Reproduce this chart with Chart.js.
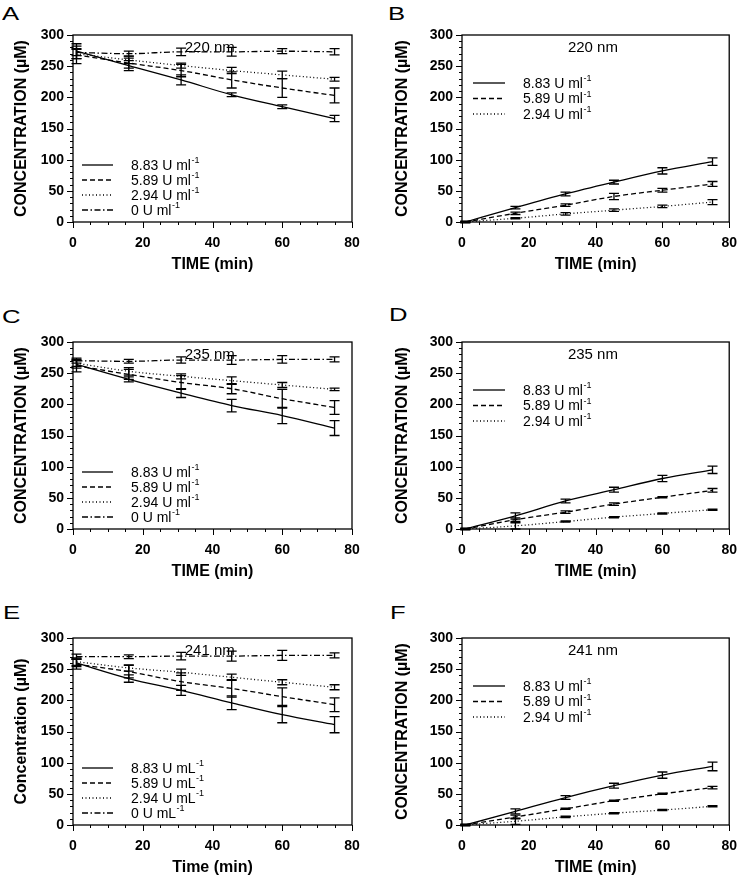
<!DOCTYPE html>
<html lang="en">
<head>
<meta charset="UTF-8">
<title>Concentration vs time, 220 / 235 / 241 nm</title>
<script src="https://cdn.jsdelivr.net/npm/chart.js"></script>
<style>
  body {
    margin: 0;
    width: 750px;
    height: 876px;
    overflow: hidden;
    background: #fff;
    position: relative;
    font-family: 'Liberation Sans', Arial, sans-serif;
  }
  .panel { position: absolute; width: 375px; height: 274px; }
  .letter {
    position: absolute;
    font-size: 19px;
    line-height: 1;
    color: #000;
    transform: scaleX(1.35);
    transform-origin: left top;
  }
</style>
</head>
<body>
  <div class="letter" style="left:2px; top:4px;">A</div>
  <div class="letter" style="left:388px; top:4px;">B</div>
  <div class="letter" style="left:2px; top:307px;">C</div>
  <div class="letter" style="left:389px; top:305px;">D</div>
  <div class="letter" style="left:3px; top:603px;">E</div>
  <div class="letter" style="left:390px; top:603px;">F</div>

  <canvas id="pA" class="panel" width="375" height="274" style="left:0; top:0;"></canvas>
  <canvas id="pB" class="panel" width="375" height="274" style="left:375px; top:0;"></canvas>
  <canvas id="pC" class="panel" width="375" height="274" style="left:0; top:307px;"></canvas>
  <canvas id="pD" class="panel" width="375" height="274" style="left:375px; top:307px;"></canvas>
  <canvas id="pE" class="panel" width="375" height="274" style="left:0; top:603px;"></canvas>
  <canvas id="pF" class="panel" width="375" height="274" style="left:375px; top:603px;"></canvas>

  <script>
    // sampling times (min)
    const timeMin = [1, 16, 31, 45.5, 60, 75];
    const doses = ['8.83', '5.89', '2.94', '0'];

    // substrate, rows = 8.83 / 5.89 / 2.94 / 0 U ml-1
    const sub220 = [
      [274, 251, 228, 204, 185, 166],
      [268, 255, 243, 228, 215, 203],
      [270, 260, 251, 243, 236, 229],
      [272, 270, 273, 273, 274, 273]
    ];
    const sub220Sd = [
      [12, 8, 8, 3, 3, 5],
      [14, 8, 10, 13, 15, 12],
      [8, 6, 4, 5, 6, 3],
      [5, 4, 6, 7, 4, 5]
    ];
    const sub235 = [
      [264, 240, 218, 198, 182, 162],
      [262, 248, 235, 225, 209, 195],
      [266, 253, 245, 238, 231, 224],
      [270, 269, 271, 271, 272, 272]
    ];
    const sub235Sd = [
      [6, 4, 7, 10, 13, 12],
      [10, 8, 11, 8, 15, 11],
      [5, 6, 4, 6, 4, 2],
      [4, 3, 5, 7, 6, 4]
    ];
    const sub241 = [
      [260, 235, 216, 196, 177, 161],
      [258, 246, 230, 219, 206, 193],
      [262, 252, 245, 237, 229, 221],
      [270, 270, 271, 271, 272, 272]
    ];
    const sub241Sd = [
      [6, 6, 8, 11, 13, 13],
      [8, 10, 14, 14, 14, 11],
      [6, 5, 5, 5, 4, 4],
      [4, 3, 6, 8, 8, 4]
    ];

    // product, rows = 8.83 / 5.89 / 2.94 U ml-1
    const prod220 = [
      [0, 23, 45, 64, 82, 97],
      [0, 14, 27, 41, 51, 61],
      [0, 6, 13, 19, 25, 32]
    ];
    const prod220Sd = [
      [1, 2, 3, 3, 5, 6],
      [1, 2, 2, 5, 3, 4],
      [1, 1, 2, 2, 2, 4]
    ];
    const prod235 = [
      [0, 21, 45, 63, 81, 95],
      [0, 15, 27, 40, 51, 62],
      [0, 5, 12, 19, 25, 31]
    ];
    const prod235Sd = [
      [1, 5, 3, 4, 5, 6],
      [1, 3, 2, 2, 1, 3],
      [1, 5, 1, 1, 1, 1]
    ];
    const prod241 = [
      [0, 22, 44, 63, 80, 94],
      [0, 13, 26, 39, 50, 60],
      [0, 6, 13, 19, 24, 30]
    ];
    const prod241Sd = [
      [1, 4, 3, 4, 5, 7],
      [1, 3, 1, 1, 1, 2],
      [1, 5, 1, 1, 1, 1]
    ];

    const yTicksMax = 300;
    const xTicksMax = 80;

    const dashes = [[], [5, 3], [1, 2.5], [6, 2.5, 1.5, 2.5]];
    const FONT = "'Liberation Sans', Arial, sans-serif";

    // frame, tick marks, error bars, legend and wavelength label
    const panelDecor = {
      id: 'panelDecor',
      afterDatasetsDraw(chart, args, o) {
        const { ctx, chartArea: a } = chart;
        const x = chart.scales.x, y = chart.scales.y;
        ctx.save();
        ctx.strokeStyle = '#000';
        ctx.fillStyle = '#000';

        // error bars
        ctx.lineWidth = 1.3;
        ctx.setLineDash([]);
        chart.data.datasets.forEach(ds => {
          ds.data.forEach((p, i) => {
            const sd = ds.sd[i];
            const px = x.getPixelForValue(p.x);
            const lo = y.getPixelForValue(p.y - sd);
            const hi = y.getPixelForValue(p.y + sd);
            ctx.beginPath();
            ctx.moveTo(px, lo); ctx.lineTo(px, hi);
            ctx.moveTo(px - 5, lo); ctx.lineTo(px + 5, lo);
            ctx.moveTo(px - 5, hi); ctx.lineTo(px + 5, hi);
            ctx.stroke();
          });
        });

        // frame
        ctx.lineWidth = 1.3;
        ctx.strokeRect(a.left, a.top, a.right - a.left, a.bottom - a.top);

        // tick marks (major + minor, outside)
        ctx.lineWidth = 1;
        ctx.beginPath();
        for (let v = 0; v <= yTicksMax; v += 10) {
          const py = Math.round(y.getPixelForValue(v)) + 0.5;
          const len = v % 50 === 0 ? 6 : 3;
          ctx.moveTo(a.left, py); ctx.lineTo(a.left - len, py);
        }
        for (let v = 0; v <= xTicksMax; v += 5) {
          const px = Math.round(x.getPixelForValue(v)) + 0.5;
          const len = v % 20 === 0 ? 6 : 3;
          ctx.moveTo(px, a.bottom); ctx.lineTo(px, a.bottom + len);
        }
        ctx.stroke();

        // wavelength label
        ctx.font = '15px ' + FONT;
        ctx.textAlign = 'center';
        ctx.textBaseline = 'middle';
        ctx.fillText(o.nm, a.left + (a.right - a.left) * 0.49, a.top + 13);

        // legend
        const L = o.legend;
        ctx.textAlign = 'left';
        chart.data.datasets.forEach((ds, i) => {
          const ly = a.top + L.top + i * L.step;
          ctx.lineWidth = 1.3;
          ctx.setLineDash(ds.borderDash);
          ctx.beginPath();
          ctx.moveTo(a.left + L.x0, ly); ctx.lineTo(a.left + L.x1, ly);
          ctx.stroke();
          ctx.setLineDash([]);
          ctx.font = '14px ' + FONT;
          ctx.textBaseline = 'middle';
          const txt = ds.label + ' U ' + o.unit;
          ctx.fillText(txt, a.left + L.tx, ly + 1);
          const w = ctx.measureText(txt).width;
          ctx.font = '9px ' + FONT;
          ctx.fillText('-1', a.left + L.tx + w + 0.5, ly - 4);
        });
        ctx.restore();
      }
    };

    function makePanel(cfg) {
      const datasets = cfg.series.map((vals, i) => ({
        label: doses[i],
        data: timeMin.map((t, k) => ({ x: t, y: vals[k] })),
        sd: cfg.sd[i],
        borderColor: '#000',
        borderWidth: 1.3,
        borderDash: dashes[i],
        pointRadius: 0,
        cubicInterpolationMode: 'monotone',
        fill: false
      }));

      return new Chart(document.getElementById(cfg.id), {
        type: 'line',
        data: { datasets },
        options: {
          responsive: false,
          animation: false,
          devicePixelRatio: 1,
          layout: { padding: { top: 35, right: cfg.padRight, bottom: 0, left: 0 } },
          plugins: {
            legend: { display: false },
            tooltip: { enabled: false },
            panelDecor: { nm: cfg.nm, unit: cfg.unit, legend: cfg.legend }
          },
          scales: {
            x: {
              type: 'linear',
              min: 0, max: xTicksMax,
              grid: { display: false, drawTicks: false },
              border: { display: false },
              ticks: { stepSize: 20, color: '#000', padding: 13, maxRotation: 0, font: { family: FONT, size: 14, weight: 'bold' } },
              title: { display: true, text: cfg.xTitle, color: '#000', padding: { top: 0, bottom: 0 }, font: { family: FONT, size: 16, weight: 'bold' } },
              afterFit: s => { s.height = 52; }
            },
            y: {
              min: 0, max: yTicksMax,
              grid: { display: false, drawTicks: false },
              border: { display: false },
              ticks: { stepSize: 50, color: '#000', padding: 9, font: { family: FONT, size: 14, weight: 'bold' } },
              title: { display: true, text: cfg.yTitle, color: '#000', padding: { top: cfg.titlePad, bottom: 0 }, font: { family: FONT, size: 16, weight: 'bold' } },
              afterFit: s => { s.width = cfg.plotLeft; }
            }
          }
        },
        plugins: [panelDecor]
      });
    }

    const legendSub = { x0: 9, x1: 40, tx: 58, top: 130, step: 15 };
    const legendProd = { x0: 11, x1: 43, tx: 61, top: 48, step: 15.5 };

    makePanel({ id: 'pA', series: sub220, sd: sub220Sd, nm: '220 nm', unit: 'ml', legend: legendSub,
      plotLeft: 73, padRight: 23, titlePad: 12, yTitle: 'CONCENTRATION (µM)', xTitle: 'TIME (min)' });
    makePanel({ id: 'pB', series: prod220, sd: prod220Sd, nm: '220 nm', unit: 'ml', legend: legendProd,
      plotLeft: 87, padRight: 8, titlePad: 18, yTitle: 'CONCENTRATION (µM)', xTitle: 'TIME (min)' });
    makePanel({ id: 'pC', series: sub235, sd: sub235Sd, nm: '235 nm', unit: 'ml', legend: legendSub,
      plotLeft: 73, padRight: 23, titlePad: 12, yTitle: 'CONCENTRATION (µM)', xTitle: 'TIME (min)' });
    makePanel({ id: 'pD', series: prod235, sd: prod235Sd, nm: '235 nm', unit: 'ml', legend: legendProd,
      plotLeft: 87, padRight: 8, titlePad: 18, yTitle: 'CONCENTRATION (µM)', xTitle: 'TIME (min)' });
    makePanel({ id: 'pE', series: sub241, sd: sub241Sd, nm: '241 nm', unit: 'mL', legend: legendSub,
      plotLeft: 73, padRight: 23, titlePad: 12, yTitle: 'Concentration (µM)', xTitle: 'Time (min)' });
    makePanel({ id: 'pF', series: prod241, sd: prod241Sd, nm: '241 nm', unit: 'ml', legend: legendProd,
      plotLeft: 87, padRight: 8, titlePad: 18, yTitle: 'CONCENTRATION (µM)', xTitle: 'TIME (min)' });
  </script>
</body>
</html>
